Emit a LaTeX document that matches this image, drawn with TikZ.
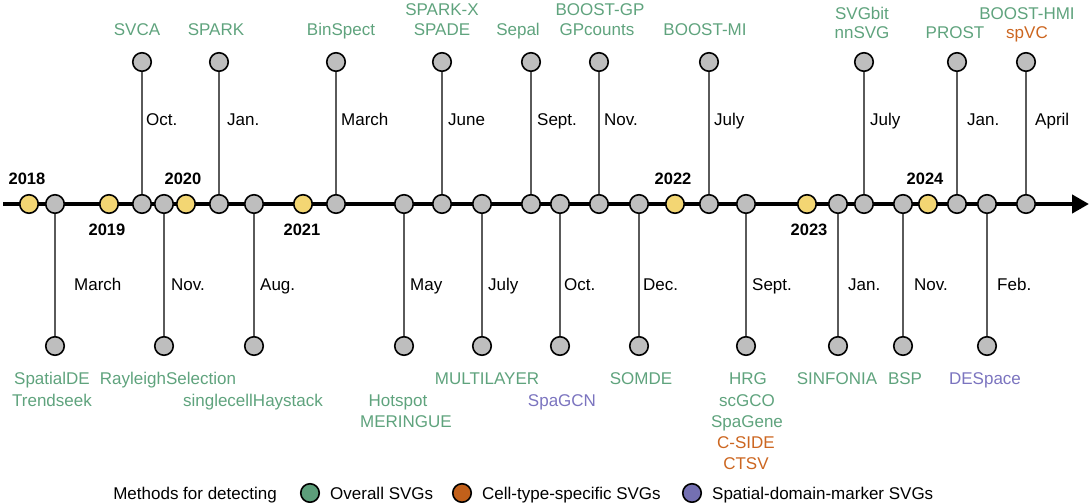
\documentclass[tikz,border=0pt]{standalone}
\usepackage{fontspec}
\setmainfont{Liberation Sans}
\usetikzlibrary{arrows.meta}
\definecolor{gtxt}{HTML}{5FA37D}
\definecolor{otxt}{HTML}{CC6620}
\definecolor{ptxt}{HTML}{7B74BF}
\definecolor{gfill}{HTML}{BEBEBE}
\definecolor{yfill}{HTML}{F3D673}
\definecolor{lgreen}{HTML}{5C9E7A}
\definecolor{lorange}{HTML}{C2601A}
\definecolor{lpurple}{HTML}{7470B2}
\definecolor{conncol}{HTML}{5A5A5A}
\begin{document}
\begin{tikzpicture}[x=1pt,y=-1pt,
 dot/.style={circle,draw=black,line width=1.6pt,minimum size=18.5pt,inner sep=0pt},
 gdot/.style={dot,fill=gfill},
 ydot/.style={dot,fill=yfill},
 txt/.style={font=\fontsize{17}{20}\selectfont,anchor=base,inner sep=0pt},
 mname/.style={txt,text=gtxt},
 month/.style={txt,anchor=base west,text=black},
 year/.style={txt,font=\fontsize{16.5}{20}\selectfont\bfseries},
 connector/.style={draw=conncol,line width=1.6pt},
 axisline/.style={line width=4.5pt,-{Triangle[length=17pt,width=18pt]}}]
\useasboundingbox (0,0) rectangle (1090,503);
% axis
\coordinate (start) at (3,204);
\coordinate (end) at (1089,204);
\draw[axisline] (start) -- (end);
% year dots
\foreach \n/\x in {y18/29,y19/109,y20/186,y21/303,y22/675,y23/807,y24/928}
  \node[ydot] (\n) at (\x,204) {};
% year labels
\node[year] (l18) at (27,184) {2018};
\node[year] (l19) at (107,235) {2019};
\node[year] (l20) at (183,184) {2020};
\node[year] (l21) at (302,235) {2021};
\node[year] (l22) at (673,184) {2022};
\node[year] (l23) at (809,235) {2023};
\node[year] (l24) at (925,184) {2024};
% events above the axis
\foreach \n/\x in {svca/142,spark/219,binspect/336,sparkx/442,sepal/531,boostgp/599,boostmi/709,svgbit/864,prost/957,boosthmi/1026}{
  \node[gdot] (a\n) at (\x,204) {};
  \node[gdot] (t\n) at (\x,62) {};
  \draw[connector] (a\n) -- (t\n);
}
% events below the axis
\foreach \n/\x in {spatialde/55,rayleigh/164,haystack/254,hotspot/404,multilayer/482,spagcn/560,somde/639,hrg/746,sinfonia/838,bsp/903,despace/987}{
  \node[gdot] (a\n) at (\x,204) {};
  \node[gdot] (b\n) at (\x,346) {};
  \draw[connector] (a\n) -- (b\n);
}
% month labels, top
\node[month] (msvca) at (146,125) {Oct.};
\node[month] (mspark) at (227,125) {Jan.};
\node[month] (mbinspect) at (341,125) {March};
\node[month] (msparkx) at (448,125) {June};
\node[month] (msepal) at (537,125) {Sept.};
\node[month] (mboostgp) at (604,125) {Nov.};
\node[month] (mboostmi) at (714,125) {July};
\node[month] (msvgbit) at (870,125) {July};
\node[month] (mprost) at (967,125) {Jan.};
\node[month] (mboosthmi) at (1035,125) {April};
% month labels, bottom
\node[month] (mspatialde) at (74,290) {March};
\node[month] (mrayleigh) at (171,290) {Nov.};
\node[month] (mhaystack) at (260,290) {Aug.};
\node[month] (mhotspot) at (410,290) {May};
\node[month] (mmultilayer) at (488,290) {July};
\node[month] (mspagcn) at (564,290) {Oct.};
\node[month] (msomde) at (643,290) {Dec.};
\node[month] (mhrg) at (752,290) {Sept.};
\node[month] (msinfonia) at (848,290) {Jan.};
\node[month] (mbsp) at (914,290) {Nov.};
\node[month] (mdespace) at (997,290) {Feb.};
% method names, top
\node[mname] (nsvca) at (137,36) {SVCA};
\node[mname] (nspark) at (216,36) {SPARK};
\node[mname] (nbinspect) at (341,36) {BinSpect};
\node[mname] (nsparkx) at (442,16) {SPARK-X};
\node[mname] (nspade) at (442,36) {SPADE};
\node[mname] (nsepal) at (518,36) {Sepal};
\node[mname] (nboostgp) at (600,16) {BOOST-GP};
\node[mname] (ngpcounts) at (597,36) {GPcounts};
\node[mname] (nboostmi) at (705,36) {BOOST-MI};
\node[mname] (nsvgbit) at (862,20) {SVGbit};
\node[mname] (nnnsvg) at (862,39) {nnSVG};
\node[mname] (nprost) at (955,39) {PROST};
\node[mname] (nboosthmi) at (1027,20) {BOOST-HMI};
\node[mname,text=otxt] (nspvc) at (1027,39) {spVC};
% method names, bottom
\node[mname] (nspatialde) at (52,384) {SpatialDE};
\node[mname] (ntrendseek) at (52,406) {Trendseek};
\node[mname] (nrayleigh) at (168,384) {RayleighSelection};
\node[mname] (nhaystack) at (253,406) {singlecellHaystack};
\node[mname] (nhotspot) at (398,406) {Hotspot};
\node[mname] (nmeringue) at (406,427) {MERINGUE};
\node[mname] (nmultilayer) at (487,384) {MULTILAYER};
\node[mname,text=ptxt] (nspagcn) at (562,406) {SpaGCN};
\node[mname] (nsomde) at (641,384) {SOMDE};
\node[mname] (nhrg) at (748,384) {HRG};
\node[mname] (nscgco) at (747,406) {scGCO};
\node[mname] (nspagene) at (747,427) {SpaGene};
\node[mname,text=otxt] (ncside) at (746,448) {C-SIDE};
\node[mname,text=otxt] (nctsv) at (746,469) {CTSV};
\node[mname] (nsinfonia) at (837,384) {SINFONIA};
\node[mname] (nbsp) at (905,384) {BSP};
\node[mname,text=ptxt] (ndespace) at (985,384) {DESpace};
% legend
\node[txt,anchor=base east] (legtitle) at (277,499) {Methods for detecting};
\node[dot,fill=lgreen] (leg1) at (310,493) {};
\node[txt,anchor=base west] (legt1) at (330,499) {Overall SVGs};
\node[dot,fill=lorange] (leg2) at (462,493) {};
\node[txt,anchor=base west] (legt2) at (482,499) {Cell-type-specific SVGs};
\node[dot,fill=lpurple] (leg3) at (692,493) {};
\node[txt,anchor=base west] (legt3) at (712,499) {Spatial-domain-marker SVGs};
\end{tikzpicture}
\end{document}
